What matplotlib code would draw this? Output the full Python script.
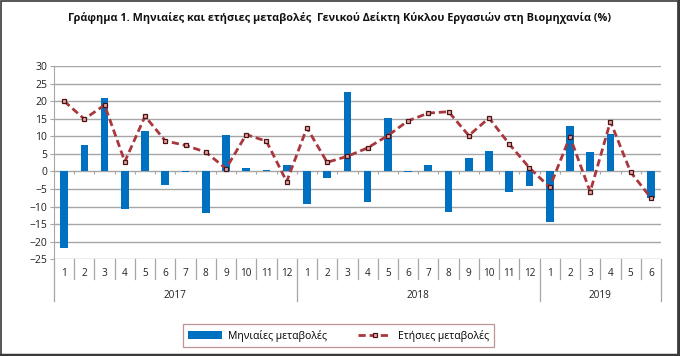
import matplotlib
matplotlib.use("Agg")
import matplotlib.pyplot as plt
from matplotlib.lines import Line2D
from matplotlib.patches import Rectangle
import numpy as np

plt.rcParams['font.family'] = ['Open Sans', 'DejaVu Sans']

years = ["2017", "2018", "2019"]
months_per_year = [12, 12, 6]
month_labels = [str(m) for m in range(1, 13)] + [str(m) for m in range(1, 13)] + [str(m) for m in range(1, 7)]

monthly = [-21.7, 7.5, 20.9, -10.6, 11.5, -3.8, -0.2, -11.9, 10.4, 1.0, 0.5, 1.8,
           -9.4, -2.0, 22.7, -8.7, 15.1, -0.2, 1.8, -11.6, 3.8, 5.8, -5.8, -4.2,
           -14.3, 12.8, 5.5, 10.6, 0.1, -7.5]
annual = [20.0, 14.9, 18.9, 2.8, 15.7, 8.7, 7.4, 5.5, 0.8, 10.5, 8.6, -2.9,
          12.4, 2.6, 4.3, 6.7, 10.2, 14.4, 16.6, 17.0, 10.2, 15.2, 7.8, 1.0,
          -4.5, 9.9, -5.8, 14.2, -0.2, -7.5]

title = "Γράφημα 1. Μηνιαίες και ετήσιες μεταβολές  Γενικού Δείκτη Κύκλου Εργασιών στη Βιομηχανία (%)"
label_monthly = "Μηνιαίες μεταβολές"
label_annual = "Ετήσιες μεταβολές"

W, H = 680, 356
fig = plt.figure(figsize=(W / 100, H / 100), dpi=100)
fig.patch.set_facecolor('white')

left, right, top, bottom = 54, 661, 66, 259.3
ax = fig.add_axes([left / W, 1 - bottom / H, (right - left) / W, (bottom - top) / H])

n = len(monthly)
x = np.arange(n)
grid_c = '#A6A6A6'

ax.set_xlim(-0.5, n - 0.5)
ax.set_ylim(-25, 30)
ax.set_yticks(np.arange(-25, 31, 5))
for yv in np.arange(-25, 31, 5):
    if yv != 0:
        ax.axhline(yv, color=grid_c, lw=1.0, zorder=0)

bars = ax.bar(x, monthly, width=0.38, color='#0070C0', zorder=2, label=label_monthly)
ax.axhline(0, color=grid_c, lw=1.0, zorder=1)
ax.vlines(np.arange(n + 1) - 0.5, -0.8, 0, color=grid_c, lw=0.8, zorder=1)

line, = ax.plot(x, annual, color='#A9373D', lw=2.0, ls=(0, (2.6, 1.4)), marker='s', ms=3.3,
                mfc='#E6A3A3', mec='#4A1515', mew=0.9, zorder=3, label=label_annual)

for s in ['top', 'right', 'bottom']:
    ax.spines[s].set_visible(False)
ax.spines['left'].set_color(grid_c)
ax.spines['left'].set_bounds(-25, 30)
ax.tick_params(axis='y', length=3, color=grid_c, labelsize=7.5, pad=2, labelcolor='#222222')
ax.set_xticks([])

# category axis (months & years)
trans = ax.get_xaxis_transform()
ax_h = bottom - top
for i, lab in enumerate(month_labels):
    ax.text(i, -14.7 / ax_h, lab, transform=trans, ha='center', va='center', fontsize=7.2, color='#222222', clip_on=False)
year_bounds = np.concatenate([[0], np.cumsum(months_per_year)]) - 0.5
for k in range(n + 1):
    xb = k - 0.5
    y_end = -41.4 / ax_h if xb in year_bounds else -20 / ax_h
    ax.plot([xb, xb], [0, y_end], transform=trans, color=grid_c, lw=0.9, clip_on=False)
for i, yl in enumerate(years):
    xc = (year_bounds[i] + year_bounds[i + 1]) / 2
    ax.text(xc, -36 / ax_h, yl, transform=trans, ha='center', va='center', fontsize=7.2, color='#222222', clip_on=False)

fig.text(0.5, 1 - 18.5 / H, title, ha='center', va='center', fontsize=7.8, fontweight='bold', color='#111111')

leg = fig.legend(handles=[bars, line], loc='center', bbox_to_anchor=(338.5 / W, 1 - 335.5 / H),
                 ncol=2, frameon=True, fancybox=False, fontsize=7.5, handlelength=3.2,
                 columnspacing=3.0, borderpad=0.5, handletextpad=0.6)
leg.get_frame().set_edgecolor('#B07A7A')
leg.get_frame().set_linewidth(0.9)

# outer frame
fig.add_artist(Rectangle((0.5 / W, 1.5 / H), (W - 2.5) / W, (H - 2.5) / H, transform=fig.transFigure,
                         fill=False, edgecolor='#3A3A3A', lw=1.2))
fig.add_artist(Line2D([0, 1], [1 / H, 1 / H], transform=fig.transFigure, color='#3A3A3A', lw=2.5))
fig.add_artist(Line2D([1 - 1.5 / W, 1 - 1.5 / W], [0, 1], transform=fig.transFigure, color='#3A3A3A', lw=2.5))

fig.savefig('out.png', dpi=100, facecolor='white')
